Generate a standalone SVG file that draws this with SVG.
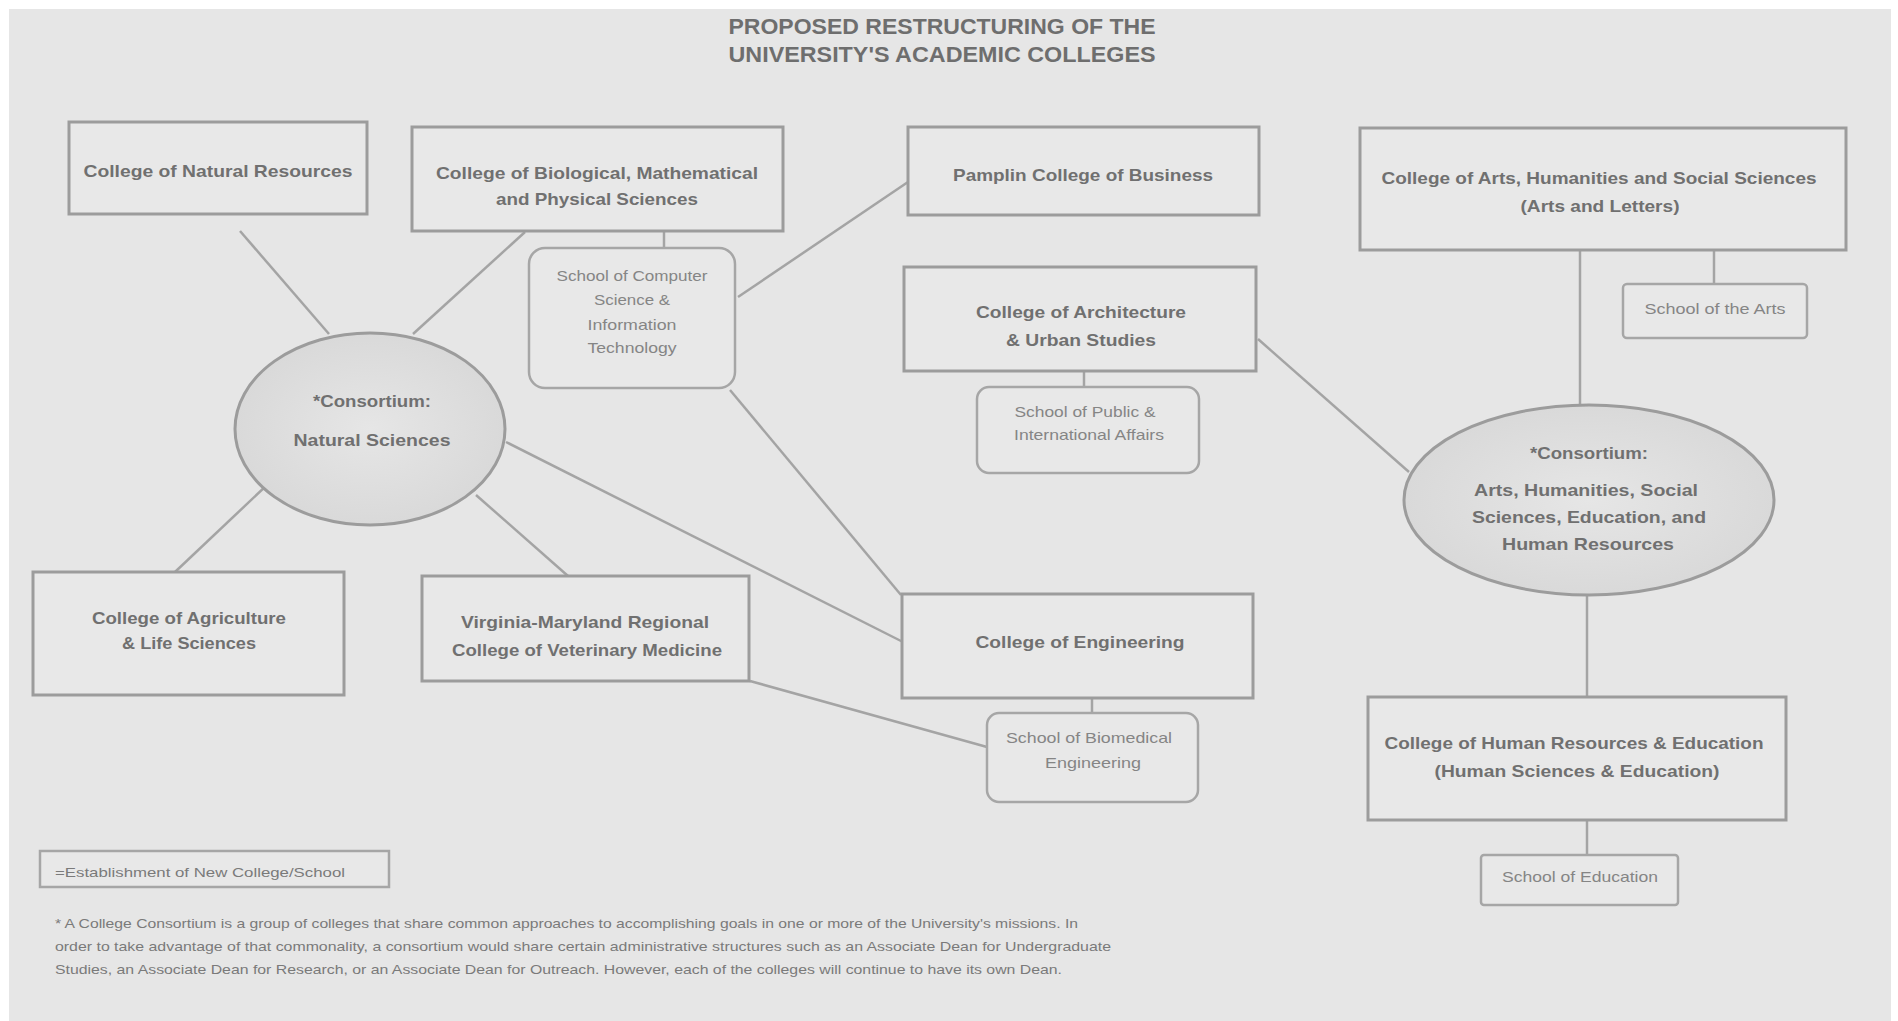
<svg xmlns="http://www.w3.org/2000/svg" width="1898" height="1021" viewBox="0 0 1898 1021">
<style>
text{font-family:"Liberation Sans",Arial,sans-serif;fill:#707070;text-anchor:middle}
.t{font-size:17px;font-weight:bold}
.s{font-size:15px;fill:#858585}
.f{font-size:13px;text-anchor:start;fill:#7a7a7a}
.title{font-size:22px;font-weight:bold;fill:#6e6e6e}
.box{fill:#e8e8e8;stroke:#9c9c9c;stroke-width:3}
.sch{fill:#e8e8e8;stroke:#a6a6a6;stroke-width:2.5}
.ell{fill:url(#eg);stroke:#9c9c9c;stroke-width:3}
.c line{stroke:#a4a4a4;stroke-width:2.5}
</style>
<defs>
<radialGradient id="eg" cx="50%" cy="50%" r="50%">
<stop offset="0" stop-color="#e6e6e6"/>
<stop offset="1" stop-color="#d9d9d9"/>
</radialGradient>
</defs>
<rect x="0" y="0" width="1898" height="1021" fill="#ffffff"/>
<rect x="9" y="9" width="1882" height="1012" fill="#e6e6e6"/>

<g id="title">
<text class="title" x="942" y="34" textLength="427" lengthAdjust="spacingAndGlyphs">PROPOSED RESTRUCTURING OF THE</text>
<text class="title" x="942" y="62" textLength="427" lengthAdjust="spacingAndGlyphs">UNIVERSITY'S ACADEMIC COLLEGES</text>
</g>

<g id="connectors" class="c">
<line x1="240" y1="231" x2="329" y2="334"/>
<line x1="525" y1="232" x2="413" y2="334"/>
<line x1="664" y1="231" x2="664" y2="248"/>
<line x1="267" y1="485" x2="175" y2="572"/>
<line x1="476" y1="495" x2="568" y2="576"/>
<line x1="506" y1="442" x2="903" y2="642"/>
<line x1="730" y1="390" x2="901" y2="595"/>
<line x1="738" y1="297" x2="908" y2="182"/>
<line x1="750" y1="681" x2="987" y2="747"/>
<line x1="1084" y1="371" x2="1084" y2="387"/>
<line x1="1258" y1="339" x2="1409" y2="472"/>
<line x1="1580" y1="250" x2="1580" y2="406"/>
<line x1="1714" y1="250" x2="1714" y2="284"/>
<line x1="1092" y1="698" x2="1092" y2="713"/>
<line x1="1587" y1="594" x2="1587" y2="697"/>
<line x1="1587" y1="820" x2="1587" y2="855"/>
</g>

<g id="natural-resources">
<rect class="box" x="69" y="122" width="298" height="92"/>
<text class="t" x="218" y="177" textLength="269" lengthAdjust="spacingAndGlyphs">College of Natural Resources</text>
</g>

<g id="biological-sciences">
<rect class="box" x="412" y="127" width="371" height="104"/>
<text class="t" x="597" y="179" textLength="322" lengthAdjust="spacingAndGlyphs">College of Biological, Mathematical</text>
<text class="t" x="597" y="205" textLength="202" lengthAdjust="spacingAndGlyphs">and Physical Sciences</text>
</g>

<g id="school-cs">
<rect class="sch" x="529" y="248" width="206" height="140" rx="16"/>
<text class="s" x="632" y="281" textLength="151" lengthAdjust="spacingAndGlyphs">School of Computer</text>
<text class="s" x="632" y="305" textLength="76" lengthAdjust="spacingAndGlyphs">Science &amp;</text>
<text class="s" x="632" y="330" textLength="89" lengthAdjust="spacingAndGlyphs">Information</text>
<text class="s" x="632" y="353" textLength="89" lengthAdjust="spacingAndGlyphs">Technology</text>
</g>

<g id="consortium-natural">
<ellipse class="ell" cx="370" cy="429" rx="135" ry="96"/>
<text class="t" x="372" y="407" textLength="118" lengthAdjust="spacingAndGlyphs">*Consortium:</text>
<text class="t" x="372" y="446" textLength="157" lengthAdjust="spacingAndGlyphs">Natural Sciences</text>
</g>

<g id="agriculture">
<rect class="box" x="33" y="572" width="311" height="123"/>
<text class="t" x="189" y="624" textLength="194" lengthAdjust="spacingAndGlyphs">College of Agriculture</text>
<text class="t" x="189" y="649" textLength="134" lengthAdjust="spacingAndGlyphs">&amp; Life Sciences</text>
</g>

<g id="veterinary">
<rect class="box" x="422" y="576" width="327" height="105"/>
<text class="t" x="585" y="628" textLength="248" lengthAdjust="spacingAndGlyphs">Virginia-Maryland Regional</text>
<text class="t" x="587" y="656" textLength="270" lengthAdjust="spacingAndGlyphs">College of Veterinary Medicine</text>
</g>

<g id="pamplin">
<rect class="box" x="908" y="127" width="351" height="88"/>
<text class="t" x="1083" y="181" textLength="260" lengthAdjust="spacingAndGlyphs">Pamplin College of Business</text>
</g>

<g id="architecture">
<rect class="box" x="904" y="267" width="352" height="104"/>
<text class="t" x="1081" y="318" textLength="210" lengthAdjust="spacingAndGlyphs">College of Architecture</text>
<text class="t" x="1081" y="346" textLength="150" lengthAdjust="spacingAndGlyphs">&amp; Urban Studies</text>
</g>

<g id="school-public-affairs">
<rect class="sch" x="977" y="387" width="222" height="86" rx="12"/>
<text class="s" x="1085" y="417" textLength="141" lengthAdjust="spacingAndGlyphs">School of Public &amp;</text>
<text class="s" x="1089" y="440" textLength="150" lengthAdjust="spacingAndGlyphs">International Affairs</text>
</g>

<g id="engineering">
<rect class="box" x="902" y="594" width="351" height="104"/>
<text class="t" x="1080" y="648" textLength="209" lengthAdjust="spacingAndGlyphs">College of Engineering</text>
</g>

<g id="school-biomedical">
<rect class="sch" x="987" y="713" width="211" height="89" rx="12"/>
<text class="s" x="1089" y="743" textLength="166" lengthAdjust="spacingAndGlyphs">School of Biomedical</text>
<text class="s" x="1093" y="768" textLength="96" lengthAdjust="spacingAndGlyphs">Engineering</text>
</g>

<g id="arts-sciences">
<rect class="box" x="1360" y="128" width="486" height="122"/>
<text class="t" x="1599" y="184" textLength="435" lengthAdjust="spacingAndGlyphs">College of Arts, Humanities and Social Sciences</text>
<text class="t" x="1600" y="212" textLength="159" lengthAdjust="spacingAndGlyphs">(Arts and Letters)</text>
</g>

<g id="school-arts">
<rect class="sch" x="1623" y="284" width="184" height="54" rx="4"/>
<text class="s" x="1715" y="314" textLength="141" lengthAdjust="spacingAndGlyphs">School of the Arts</text>
</g>

<g id="consortium-arts">
<ellipse class="ell" cx="1589" cy="500" rx="185" ry="95"/>
<text class="t" x="1589" y="459" textLength="118" lengthAdjust="spacingAndGlyphs">*Consortium:</text>
<text class="t" x="1586" y="496" textLength="224" lengthAdjust="spacingAndGlyphs">Arts, Humanities, Social</text>
<text class="t" x="1589" y="523" textLength="234" lengthAdjust="spacingAndGlyphs">Sciences, Education, and</text>
<text class="t" x="1588" y="550" textLength="172" lengthAdjust="spacingAndGlyphs">Human Resources</text>
</g>

<g id="human-resources">
<rect class="box" x="1368" y="697" width="418" height="123"/>
<text class="t" x="1574" y="749" textLength="379" lengthAdjust="spacingAndGlyphs">College of Human Resources &amp; Education</text>
<text class="t" x="1577" y="777" textLength="285" lengthAdjust="spacingAndGlyphs">(Human Sciences &amp; Education)</text>
</g>

<g id="school-education">
<rect class="sch" x="1481" y="855" width="197" height="50" rx="3"/>
<text class="s" x="1580" y="882" textLength="156" lengthAdjust="spacingAndGlyphs">School of Education</text>
</g>

<g id="legend">
<rect class="sch" x="40" y="851" width="349" height="36"/>
<text class="f" x="55" y="877" textLength="290" lengthAdjust="spacingAndGlyphs">=Establishment of New College/School</text>
</g>

<g id="footnote">
<text class="f" x="55" y="928" textLength="1023" lengthAdjust="spacingAndGlyphs">* A College Consortium is a group of colleges that share common approaches to accomplishing goals in one or more of the University's missions.  In</text>
<text class="f" x="55" y="951" textLength="1056" lengthAdjust="spacingAndGlyphs">order to take advantage of that commonality, a consortium would share certain administrative structures such as an Associate Dean for Undergraduate</text>
<text class="f" x="55" y="974" textLength="1007" lengthAdjust="spacingAndGlyphs">Studies, an Associate Dean for Research, or an Associate Dean for Outreach.  However, each of the colleges will continue to have its own Dean.</text>
</g>
</svg>
